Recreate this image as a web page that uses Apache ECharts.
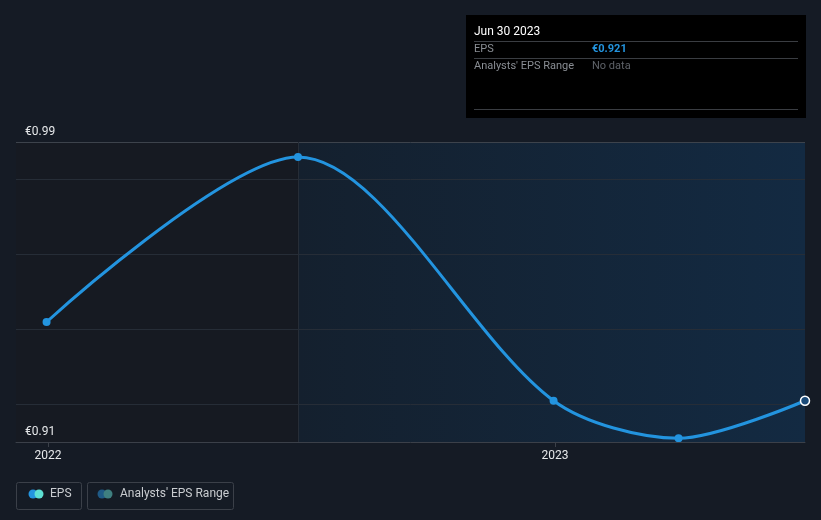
<!DOCTYPE html>
<html><head><meta charset="utf-8">
<script src="https://cdn.jsdelivr.net/npm/echarts@6/dist/echarts.min.js"></script>
<style>html,body{margin:0;padding:0;background:#151b25;}#c{width:821px;height:520px;}</style>
</head><body><div id="c"></div>
<script>
const dates = ['2021-12-31', '2022-06-30', '2022-12-31', '2023-03-31', '2023-06-30'];
const eps = [0.942, 0.986, 0.921, 0.911, 0.921];
const yTickLabels = [0.91, 0.99];
const gridValues = [0.92, 0.94, 0.96, 0.98];
const yearTicks = ['2022-01-01', '2023-01-01'];
const splitDate = '2022-06-30';
const endDate = '2023-06-30';
const startDate = '2021-12-09';

const ts = d => new Date(d + 'T00:00:00Z').getTime();
const chart = echarts.init(document.getElementById('c'));
const FONT = 'Roboto, "Noto Sans", sans-serif';

const seriesData = dates.map((d, i) => {
  const item = {value: [ts(d), eps[i]]};
  if (i === dates.length - 1) {
    item.symbolSize = 9;
    item.itemStyle = {color: '#1a4a78', borderColor: '#ffffff', borderWidth: 1.5};
  }
  return item;
});

chart.setOption({
  backgroundColor: '#151b25',
  animation: false,
  grid: {left: 16, right: 16, top: 142, bottom: 78},
  xAxis: {
    type: 'value', min: ts(startDate), max: ts(endDate), scale: true, z: 10,
    axisLine: {show: true, lineStyle: {color: '#3b4049', width: 1}},
    axisTick: {show: true, customValues: yearTicks.map(ts), length: 5, lineStyle: {color: '#3b4049'}},
    axisLabel: {customValues: yearTicks.map(ts), color: '#e6e8ea', fontSize: 12, fontFamily: FONT, margin: 8,
      formatter: v => String(new Date(v).getUTCFullYear())},
    splitLine: {show: false}
  },
  yAxis: {
    type: 'value', min: yTickLabels[0], max: yTickLabels[1], z: 10,
    axisLine: {show: false}, axisTick: {show: false}, splitLine: {show: false},
    axisLabel: {customValues: yTickLabels, showMinLabel: true, showMaxLabel: true, hideOverlap: false,
      inside: true, margin: 9, verticalAlign: 'bottom', padding: [0, 0, 4, 0],
      color: '#e6e8ea', fontSize: 12, fontFamily: FONT,
      formatter: v => '€' + v.toFixed(2)}
  },
  series: [{
    type: 'line', smooth: 0.3,
    data: seriesData,
    symbol: 'circle', symbolSize: 8,
    lineStyle: {color: '#2394df', width: 3},
    itemStyle: {color: '#2394df'},
    z: 5,
    markArea: {
      silent: true,
      data: [
        [{xAxis: ts(startDate), itemStyle: {color: '#161a22'}}, {xAxis: ts(splitDate)}],
        [{xAxis: ts(splitDate), itemStyle: {color: new echarts.graphic.LinearGradient(0, 0, 1, 0, [
          {offset: 0, color: '#14202e'}, {offset: 1, color: '#132a42'}])}}, {xAxis: ts(endDate)}]
      ]
    },
    markLine: {
      silent: true, symbol: 'none', label: {show: false},
      data: [
        ...gridValues.map(v => ({yAxis: v, lineStyle: {color: '#262d37', width: 1, type: 'solid'}})),
        {yAxis: yTickLabels[1], lineStyle: {color: '#3d434c', width: 1, type: 'solid'}},
        {xAxis: ts(splitDate), lineStyle: {color: '#262d37', width: 1, type: 'solid'}}
      ]
    }
  }],
  graphic: [
    {type: 'text', right: 24, top: 148, style: {text: 'Actual', fill: '#e6e8ea', font: '12px ' + FONT}},
    {type: 'rect', shape: {x: 466, y: 15, width: 340, height: 103}, style: {fill: '#000000'}},
    {type: 'text', x: 474, y: 26, style: {text: 'Jun 30 2023', fill: '#ffffff', font: '12px ' + FONT}},
    {type: 'line', shape: {x1: 474, y1: 41.5, x2: 798, y2: 41.5}, style: {stroke: '#3a3d42', lineWidth: 1}},
    {type: 'text', x: 474, y: 44, style: {text: 'EPS', fill: '#8a8e94', font: '11px ' + FONT}},
    {type: 'text', x: 592, y: 44, style: {text: '€0.921', fill: '#2394df', font: 'bold 11px ' + FONT}},
    {type: 'line', shape: {x1: 474, y1: 58.5, x2: 798, y2: 58.5}, style: {stroke: '#3a3d42', lineWidth: 1}},
    {type: 'text', x: 474, y: 61, style: {text: "Analysts' EPS Range", fill: '#8a8e94', font: '11px ' + FONT}},
    {type: 'text', x: 592, y: 61, style: {text: 'No data', fill: '#5e6268', font: '11px ' + FONT}},
    {type: 'line', shape: {x1: 474, y1: 109.5, x2: 798, y2: 109.5}, style: {stroke: '#3a3d42', lineWidth: 1}},
    {type: 'rect', shape: {x: 16.5, y: 482.5, width: 65, height: 27, r: 2}, style: {fill: 'none', stroke: '#3b4049', lineWidth: 1}},
    {type: 'circle', shape: {cx: 33, cy: 494, r: 4.5}, style: {fill: '#2394df'}},
    {type: 'circle', shape: {cx: 39, cy: 494, r: 4.5}, style: {fill: '#5ee0d4'}},
    {type: 'text', x: 50, y: 488, style: {text: 'EPS', fill: '#c9ccd0', font: '12px ' + FONT}},
    {type: 'rect', shape: {x: 87.5, y: 482.5, width: 146, height: 27, r: 2}, style: {fill: 'none', stroke: '#3b4049', lineWidth: 1}},
    {type: 'circle', shape: {cx: 102, cy: 494, r: 4.5}, style: {fill: '#1f5a86'}},
    {type: 'circle', shape: {cx: 108, cy: 494, r: 4.5}, style: {fill: '#3f7f80'}},
    {type: 'text', x: 120, y: 488, style: {text: "Analysts' EPS Range", fill: '#c9ccd0', font: '12px ' + FONT}}
  ]
});
</script>
</body></html>
